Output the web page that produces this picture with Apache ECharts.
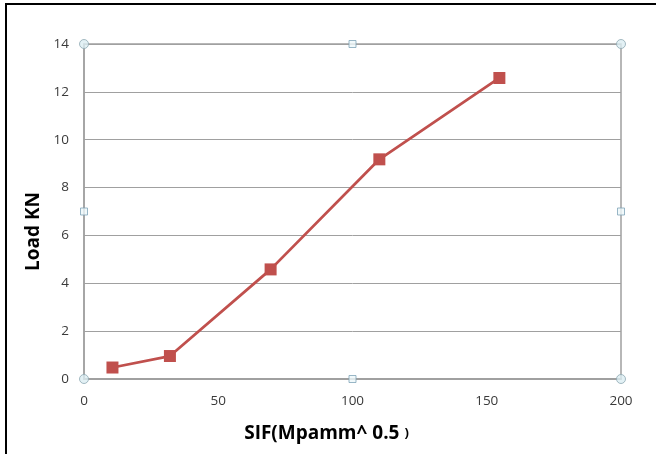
<!DOCTYPE html>
<html><head><meta charset="utf-8">
<script src="https://cdn.jsdelivr.net/npm/echarts@6/dist/echarts.min.js"></script>
<style>html,body{margin:0;padding:0;background:#fff;}#c{width:656px;height:454px;}</style>
</head><body><div id="c"></div>
<script>
const sif = [10.6, 32, 69.5, 110, 154.7];
const load = [0.48, 0.96, 4.58, 9.18, 12.58];
const cornerHandles = [[0,0],[0,14],[200,0],[200,14]];
const edgeHandles = [[100,0],[100,14],[0,7],[200,7]];
const xTicks = [0, 50, 100, 150, 200];
const yTicks = [0, 2, 4, 6, 8, 10, 12, 14];

const chart = echarts.init(document.getElementById('c'));
const font = 'Open Sans, Liberation Sans, sans-serif';
chart.setOption({
  animation: false,
  backgroundColor: '#fff',
  grid: {left: 84, right: 35, top: 44, bottom: 75, show: true, borderColor: '#a0a0a0', borderWidth: 1.5, backgroundColor: 'transparent'},
  graphic: [{type: 'rect', shape: {x: 6, y: 4, width: 700, height: 500}, style: {fill: 'none', stroke: '#000', lineWidth: 2}, z: 100}],
  xAxis: {
    type: 'value', min: xTicks[0], max: xTicks[xTicks.length-1], interval: 50,
    name: '{a|SIF(Mpamm^ 0.5} {b|)}', nameLocation: 'middle', nameGap: 45,
    nameTextStyle: {fontFamily: font, fontWeight: 'bold', fontSize: 19, color: '#000', padding: [0, 52, 0, 0],
      rich: {a: {fontFamily: font, fontWeight: 'bold', fontSize: 19, color: '#000'}, b: {fontFamily: font, fontWeight: 'bold', fontSize: 13, color: '#000'}}},
    axisLine: {show: true, lineStyle: {color: '#a0a0a0', width: 2}},
    axisTick: {show: false},
    splitLine: {show: false},
    axisLabel: {fontFamily: font, fontSize: 13.5, color: '#3a3a3a', margin: 15}
  },
  yAxis: {
    type: 'value', min: yTicks[0], max: yTicks[yTicks.length-1], interval: 2,
    name: 'Load KN', nameLocation: 'middle', nameGap: 41, nameRotate: 90,
    nameTextStyle: {fontFamily: font, fontWeight: 'bold', fontSize: 19, color: '#000', padding: [0, 40, 0, 0]},
    axisLine: {show: true, lineStyle: {color: '#a0a0a0', width: 1.5}},
    axisTick: {show: false},
    splitLine: {show: true, lineStyle: {color: '#a0a0a0', width: 1}},
    axisLabel: {fontFamily: font, fontSize: 13.5, color: '#3a3a3a', margin: 15}
  },
  series: [
    {
      type: 'line', data: sif.map((x, i) => [x, load[i]]),
      symbol: 'rect', symbolSize: 12,
      lineStyle: {color: '#C0504D', width: 2.75},
      itemStyle: {color: '#C0504D'}, z: 5
    },
    {
      type: 'scatter', data: cornerHandles, symbol: 'circle', symbolSize: 9,
      itemStyle: {color: '#dcedf2', borderColor: '#8fa9b3', borderWidth: 1}, z: 10, silent: true
    },
    {
      type: 'scatter', data: edgeHandles, symbol: 'rect', symbolSize: 7,
      itemStyle: {color: '#eef7fa', borderColor: '#7fa4b8', borderWidth: 1}, z: 10, silent: true
    }
  ]
});
</script></body></html>
